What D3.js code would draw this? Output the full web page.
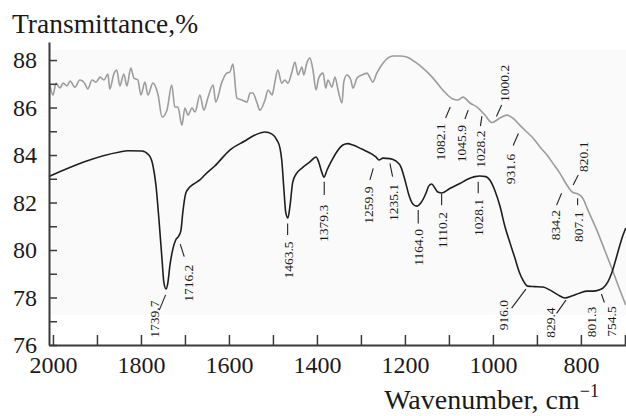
<!DOCTYPE html>
<html>
<head>
<meta charset="utf-8">
<script src="https://cdn.jsdelivr.net/npm/d3@7"></script>
<style>
  body { margin: 0; background: #fff; }
  svg { display: block; }
  svg text { font-family: "Liberation Serif", "Times New Roman", serif !important; fill: #1a1a1a; }
</style>
</head>
<body>
<svg width="626" height="416"></svg>
<script>
// lower (black) spectrum
const blackWn = [2009, 1848, 1830, 1798, 1782, 1773, 1766, 1759, 1752, 1748, 1743, 1739, 1734, 1727, 1721,
  1714, 1709, 1705, 1698, 1689, 1677, 1666, 1655, 1632, 1598, 1564, 1541, 1518, 1502, 1491, 1484, 1480,
  1475, 1471, 1466, 1461, 1455, 1446, 1434, 1416, 1402, 1396, 1389, 1384, 1377, 1368, 1355, 1341, 1330,
  1318, 1298, 1275, 1266, 1259, 1250, 1234, 1221, 1209, 1200, 1191, 1182, 1173, 1164, 1152, 1146, 1139,
  1132, 1125, 1116, 1098, 1075, 1059, 1041, 1030, 1016, 1007, 996, 984, 973, 961, 950, 941, 932, 921,
  905, 886, 871, 852, 836, 821, 802, 786, 773, 759, 750, 739, 730, 723, 714, 705, 698];
const blackT = [83.1, 84.13, 84.18, 84.17, 84.0, 83.58, 82.74, 81.26, 79.58, 78.65, 78.36, 78.6, 79.37, 80.08, 80.42,
  80.59, 80.84, 81.56, 82.4, 82.65, 82.82, 82.95, 83.16, 83.54, 84.21, 84.59, 84.84, 84.97, 84.88, 84.63, 84.29, 83.79,
  82.53, 81.6, 81.35, 81.89, 82.86, 83.24, 83.45, 83.71, 83.92, 83.71, 83.28, 83.07, 83.37, 83.71, 84.13, 84.42, 84.48,
  84.42, 84.25, 84.04, 83.92, 83.79, 83.87, 83.85, 83.75, 83.49, 82.95, 82.32, 81.94, 81.85, 81.98, 82.4, 82.69, 82.78,
  82.61, 82.44, 82.4, 82.59, 82.8, 82.97, 83.09, 83.12, 83.09, 82.95, 82.53, 81.85, 81.01, 80.29, 79.66, 79.12, 78.74, 78.48,
  78.46, 78.44, 78.32, 78.11, 77.98, 78.06, 78.19, 78.27, 78.27, 78.32, 78.4, 78.65, 79.03, 79.45, 80.04, 80.59, 80.93];

// upper (gray) spectrum
const grayWn = [2007, 2000, 1993, 1984, 1977, 1968, 1961, 1950, 1939, 1927, 1921, 1911, 1902, 1893, 1884, 1875,
  1871, 1861, 1855, 1848, 1839, 1832, 1823, 1816, 1807, 1800, 1791, 1784, 1773, 1761, 1752, 1741, 1730, 1723,
  1716, 1707, 1700, 1693, 1684, 1677, 1666, 1657, 1648, 1636, 1630, 1616, 1605, 1598, 1591, 1582, 1571, 1559,
  1552, 1546, 1536, 1530, 1518, 1511, 1502, 1496, 1489, 1480, 1473, 1466, 1457, 1450, 1443, 1434, 1430, 1423,
  1416, 1409, 1402, 1396, 1386, 1380, 1375, 1366, 1359, 1352, 1343, 1339, 1332, 1323, 1318, 1309, 1298, 1286,
  1280, 1273, 1264, 1250, 1227, 1211, 1196, 1177, 1159, 1136, 1114, 1091, 1080, 1068, 1052, 1036, 1018, 1002,
  984, 968, 955, 939, 923, 909, 893, 877, 864, 848, 832, 818, 807, 796, 784, 766, 746, 730, 714, 698];
const grayT = [86.95, 86.53, 87.03, 86.82, 87.03, 86.91, 87.12, 86.86, 87.16, 86.99, 86.78, 87.16, 87.07, 87.28, 87.16, 87.41,
  86.78, 87.45, 87.58, 86.91, 87.41, 86.91, 87.66, 87.24, 87.16, 86.53, 87.07, 86.53, 87.03, 86.53, 85.6, 85.89, 86.95, 86.02,
  86.02, 85.26, 85.98, 85.68, 85.98, 85.81, 86.53, 85.89, 86.4, 86.95, 86.23, 87.07, 87.45, 87.49, 87.83, 86.4, 86.32, 86.23,
  86.61, 86.61, 86.19, 85.89, 86.32, 86.74, 86.53, 87.03, 87.58, 87.03, 87.16, 87.03, 87.49, 87.92, 87.37, 87.71, 87.37, 87.87,
  88.08, 87.58, 86.74, 87.24, 87.45, 86.82, 87.16, 86.86, 87.28, 86.74, 86.19, 87.07, 87.37, 87.16, 86.82, 87.24, 87.37, 87.45,
  87.28, 87.07, 87.45, 87.87, 88.17, 88.17, 88.13, 87.92, 87.66, 87.24, 86.74, 86.36, 86.32, 86.44, 86.19, 86.02, 85.68, 85.37,
  85.56, 85.68, 85.56, 85.26, 84.97, 84.72, 84.34, 84.0, 83.66, 83.24, 82.74, 82.42, 82.36, 82.19, 81.68, 80.93, 80.0, 79.24, 78.44, 77.68];

// axis ticks
const xTickValues = [2000, 1900, 1800, 1700, 1600, 1500, 1400, 1300, 1200, 1100, 1000, 900, 800, 700];
const xTickLabels = [2000, 1800, 1600, 1400, 1200, 1000, 800];
const yTickValues = [76, 77, 78, 79, 80, 81, 82, 83, 84, 85, 86, 87, 88];
const yTickLabels = [76, 78, 80, 82, 84, 86, 88];

// peak labels: text, label centre [wn, T], leader [wn1, T1, wn2, T2] (null = none)
const peakLabels = ['1739.7', '1716.2', '1463.5', '1379.3', '1259.9', '1235.1', '1164.0', '1110.2', '1028.1',
  '834.2', '807.1', '820.1', '931.6', '1082.1', '1045.9', '1028.2', '1000.2', '916.0', '829.4', '801.3', '754.5'];
const peakTextPos = [[1770.5, 77.09], [1692.5, 78.6], [1465.2, 79.58], [1385.7, 81.12], [1283.4, 81.89], [1226.6, 82.0],
  [1169.8, 80.11], [1114.3, 80.84], [1033.4, 81.37], [859.1, 81.05], [806.1, 80.98], [794.8, 83.93], [960.2, 83.41],
  [1119.3, 84.55], [1072.0, 84.48], [1029.5, 84.25], [973.9, 87.02], [976.6, 77.26], [870.5, 76.94], [777.3, 76.97], [731.8, 76.99]];
const peakLeaders = [[1758.4, 77.47, 1743.9, 78.11], [1710.7, 80.25, 1701.6, 79.72], [1466.6, 81.12, 1466.6, 80.63],
  [1383.4, 82.88, 1383.4, 82.32], [1272.0, 83.44, 1279.5, 82.95], [1234.1, 83.65, 1228.0, 83.09],
  [1169.8, 81.68, 1169.8, 81.12], [1116.6, 82.36, 1116.6, 81.89], [1033.4, 82.88, 1033.4, 82.39],
  [843.9, 82.39, 855.3, 81.89], [807.5, 82.18, 807.5, 81.89], [806.1, 83.16, 817.5, 82.74],
  [942.1, 84.91, 953.9, 84.4], [1097.0, 86.02, 1107.5, 85.56], [1056.1, 85.89, 1063.6, 85.52],
  [1028.4, 85.22, 1025.0, 85.64], [980.2, 86.11, 992.0, 85.62], [957.5, 77.55, 925.0, 78.35],
  [855.3, 77.33, 834.1, 77.89], null, [753.4, 78.15, 746.6, 77.79]];

const serif = 'Liberation Serif, Times New Roman, serif';
const svg = d3.select('svg').attr('font-family', serif);

const x = d3.scaleLinear().domain([2009, 697.5]).range([49, 626]);
const y = d3.scaleLinear().domain([76, 88.76]).range([345, 42]);

svg.append('rect')
  .attr('x', 49).attr('y', 50)
  .attr('width', 577).attr('height', 265)
  .attr('fill', '#fafafa');

const line = d3.line()
  .x(d => x(d[0]))
  .y(d => y(d[1]))
  .curve(d3.curveMonotoneX);

svg.append('path')
  .datum(grayWn.map((w, i) => [w, grayT[i]]))
  .attr('d', line)
  .attr('fill', 'none')
  .attr('stroke', '#9c9c9c')
  .attr('stroke-width', 1.6);

svg.append('path')
  .datum(blackWn.map((w, i) => [w, blackT[i]]))
  .attr('d', line)
  .attr('fill', 'none')
  .attr('stroke', '#1e1e1e')
  .attr('stroke-width', 1.6);

// axes
const xAxis = svg.append('g')
  .attr('transform', 'translate(0,345)')
  .call(d3.axisBottom(x)
    .tickValues(xTickValues)
    .tickSizeInner(-10).tickSizeOuter(0).tickPadding(11)
    .tickFormat(d => xTickLabels.includes(d) ? d : ''));

const yAxis = svg.append('g')
  .attr('transform', 'translate(49,0)')
  .call(d3.axisLeft(y)
    .tickValues(yTickValues)
    .tickSizeInner(-8).tickSizeOuter(0).tickPadding(12)
    .tickFormat(d => yTickLabels.includes(d) ? d : ''));

[xAxis, yAxis].forEach(a => {
  a.attr('font-family', serif).attr('font-size', 24);
  a.select('.domain').attr('stroke', '#3a3a3a').attr('stroke-width', 2);
  a.selectAll('.tick line').attr('stroke', '#3a3a3a').attr('stroke-width', 1.5);
  a.selectAll('.tick text')
    .attr('font-family', serif)
    .attr('font-size', 24)
    .attr('fill', '#1a1a1a');
});

// titles
svg.append('text')
  .attr('x', 12).attr('y', 33)
  .attr('font-size', 27.5)
  .text('Transmittance,%');

const xt = svg.append('text')
  .attr('x', 599).attr('y', 409)
  .attr('text-anchor', 'end')
  .attr('font-size', 28)
  .text('Wavenumber, cm');
xt.append('tspan')
  .attr('dy', -12)
  .attr('font-size', 18)
  .text('\u22121');

// peak annotations
const ann = svg.append('g');
peakLabels.forEach((lab, i) => {
  const [tw, tt] = peakTextPos[i];
  ann.append('text')
    .attr('transform', `translate(${x(tw)},${y(tt)}) rotate(-90)`)
    .attr('text-anchor', 'middle')
    .attr('dy', '0.35em')
    .attr('font-size', 13.5)
    .text(lab);
  const l = peakLeaders[i];
  if (l) {
    ann.append('line')
      .attr('x1', x(l[0])).attr('y1', y(l[1]))
      .attr('x2', x(l[2])).attr('y2', y(l[3]))
      .attr('stroke', '#222')
      .attr('stroke-width', 1.1);
  }
});
</script>
</body>
</html>
